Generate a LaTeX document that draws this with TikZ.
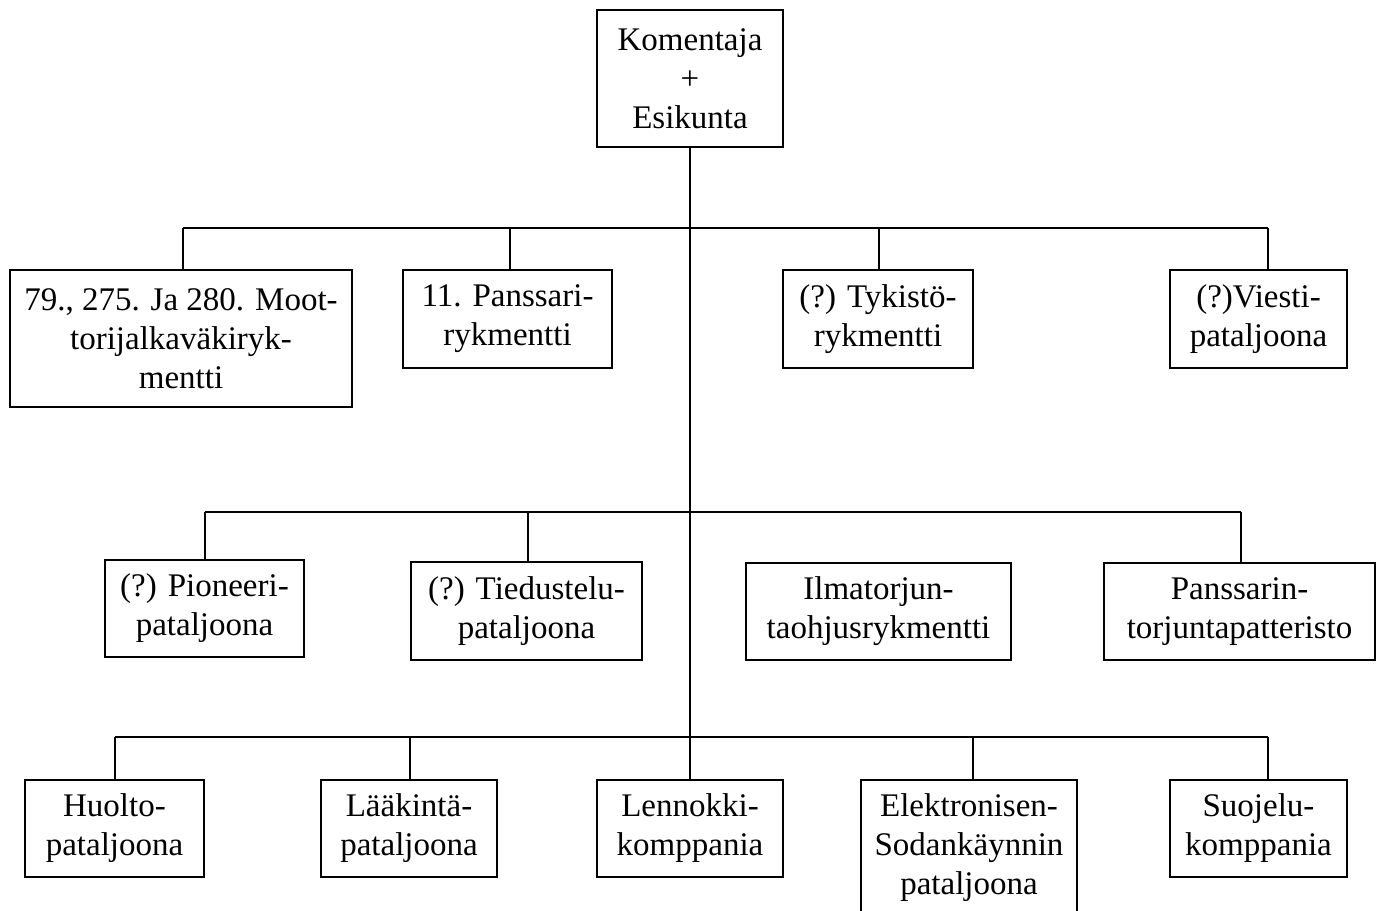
\documentclass[tikz,border=0pt]{standalone}
\usepackage{fontspec}
\setmainfont{Liberation Serif}
\usetikzlibrary{positioning}

\begin{document}
\begin{tikzpicture}[x=0.5pt, y=-0.5pt,
    every node/.style={draw, line width=1pt, align=center, inner sep=0pt,
      font=\fontsize{16.5}{19.5}\selectfont},
    every path/.style={line width=1pt},
  ]
\tikzset{unit/.style 2 args={minimum width=#1*0.5pt, minimum height=#2*0.5pt}}

  \useasboundingbox (0,0) rectangle (1383,911);

  \node[unit={186}{137}] (hq) at (690, 78.5) {Komentaja\\+\\Esikunta};

  \node[unit={342}{137}] (mot) at (181, 338.5)    {79., 275. Ja 280. Moot-\\torijalkaväkiryk-\\mentti};
  \node[unit={209}{98}]  (pans) at (507.5, 319)   {11. Panssari-\\rykmentti};
  \node[unit={190}{98}]  (tyk) at (878, 319)      {(?) Tykistö-\\rykmentti};
  \node[unit={177}{98}]  (vie) at (1258.5, 319)   {(?)Viesti-\\pataljoona};

  \node[unit={199}{97}]  (pio) at (204.5, 608.5)  {(?) Pioneeri-\\pataljoona};
  \node[unit={231}{98}]  (tie) at (526.5, 611)    {(?) Tiedustelu-\\pataljoona};
  \node[unit={265}{97}]  (ilm) at (878.5, 611.5)  {Ilmatorjun-\\taohjusrykmentti};
  \node[unit={271}{97}]  (pat) at (1239.5, 611.5) {Panssarin-\\torjuntapatteristo};

  \node[unit={179}{97}]  (huo) at (114.5, 828.5)  {Huolto-\\pataljoona};
  \node[unit={176}{97}]  (laa) at (409, 828.5)    {Lääkintä-\\pataljoona};
  \node[unit={186}{97}]  (len) at (690, 828.5)    {Lennokki-\\komppania};
  \node[unit={216}{136}] (ele) at (969, 848)      {Elektronisen-\\Sodankäynnin\\pataljoona};
  \node[unit={177}{97}]  (suo) at (1258.5, 828.5) {Suojelu-\\komppania};

  % bus points
  \coordinate (b1a) at (183, 228);
  \coordinate (b1b) at (510, 228);
  \coordinate (b1c) at (879, 228);
  \coordinate (b1d) at (1268, 228);
  \coordinate (b2a) at (205, 512);
  \coordinate (b2b) at (528, 512);
  \coordinate (b2d) at (1241, 512);
  \coordinate (b3a) at (115, 737);
  \coordinate (b3b) at (410, 737);
  \coordinate (b3d) at (973, 737);
  \coordinate (b3e) at (1268, 737);

  \draw (hq) -- (len);

  \draw (b1a) -- (b1d);
  \draw (b1a) -- (b1a |- mot.north);
  \draw (b1b) -- (b1b |- pans.north);
  \draw (b1c) -- (b1c |- tyk.north);
  \draw (b1d) -- (b1d |- vie.north);

  \draw (b2a) -- (b2d);
  \draw (b2a) -- (b2a |- pio.north);
  \draw (b2b) -- (b2b |- tie.north);
  \draw (b2d) -- (b2d |- pat.north);

  \draw (b3a) -- (b3e);
  \draw (b3a) -- (b3a |- huo.north);
  \draw (b3b) -- (b3b |- laa.north);
  \draw (b3d) -- (b3d |- ele.north);
  \draw (b3e) -- (b3e |- suo.north);

\end{tikzpicture}
\end{document}
